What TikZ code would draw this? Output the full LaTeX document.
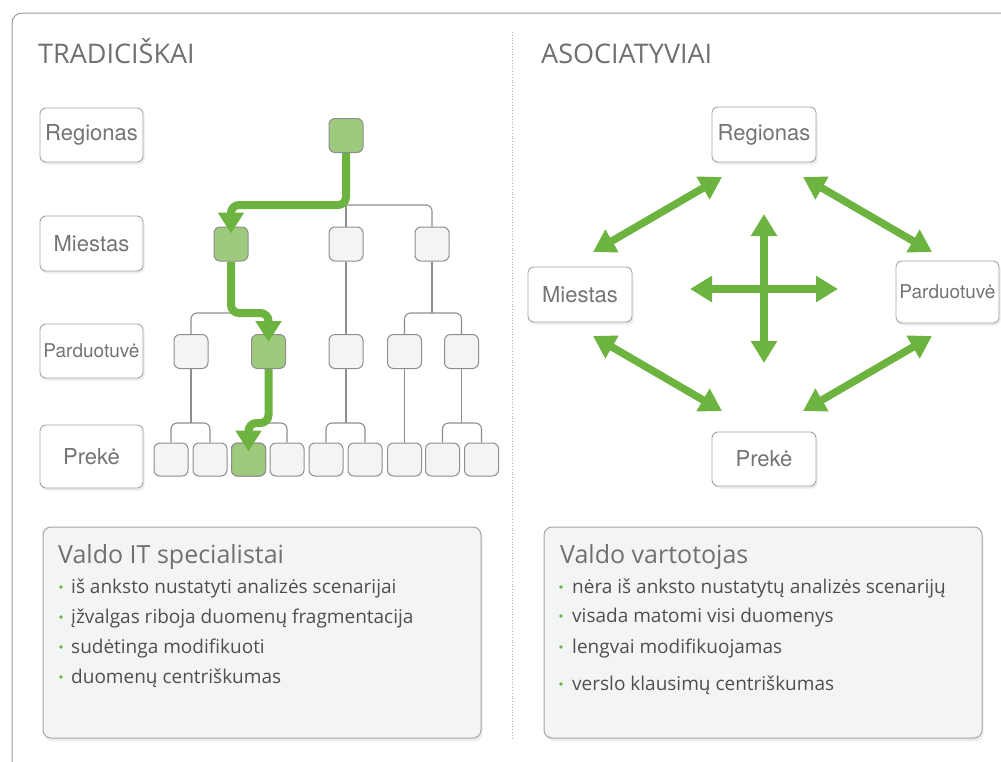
\documentclass[tikz,border=0pt]{standalone}
\usepackage{fontspec}
\setmainfont{Open Sans}
\newfontfamily\helv{TeX Gyre Heros}
\usetikzlibrary{arrows.meta,shadows,calc}
\definecolor{grn}{HTML}{6DB33F}
\definecolor{grnfill}{HTML}{9DCA7C}
\definecolor{boxfill}{HTML}{F3F4F4}
\definecolor{edge}{HTML}{8E8E8E}
\definecolor{lbltext}{HTML}{747474}
\definecolor{hdtext}{HTML}{707070}
\definecolor{bodytext}{HTML}{4F4F4F}
\begin{document}
\begin{tikzpicture}[x=1pt,y=-1pt,
 lbl/.style={draw=edge!80, line width=0.9pt, fill=white, rounded corners=6pt, minimum width=103pt, minimum height=54pt, inner sep=0pt, font=\helv\fontsize{22}{26}\selectfont, text=lbltext, drop shadow={shadow xshift=1.5pt, shadow yshift=-2.5pt, opacity=0.15}},
 tn/.style={draw=edge, line width=1pt, fill=boxfill, rounded corners=6pt, minimum width=34pt, minimum height=34pt, inner sep=0pt},
 tg/.style={tn, fill=grnfill},
 tl/.style={draw=edge, line width=1.1pt, rounded corners=6pt},
 gp/.style={draw=grn, line width=8pt, rounded corners=8pt, -{Triangle[width=25pt,length=21pt]}},
 ga/.style={draw=grn, line width=7.5pt, {Triangle[width=25pt,length=22pt]}-{Triangle[width=25pt,length=22pt]}},
 bigbox/.style={draw=edge!80, line width=1pt, fill=boxfill, rounded corners=8pt, minimum width=438pt, minimum height=211pt, drop shadow={shadow xshift=1.5pt, shadow yshift=-3pt, opacity=0.15}},
 ttl/.style={anchor=base west, inner sep=0pt, font=\fontsize{27}{32}\selectfont, text=hdtext},
 hd/.style={anchor=base west, inner sep=0pt, font=\fontsize{25}{30}\selectfont, text=hdtext},
 bl/.style={anchor=base west, inner sep=0pt, font=\fontsize{19}{23}\selectfont, text=bodytext},
 bdot/.style={circle, fill=grn, inner sep=0pt, minimum size=3.6pt},
]
\useasboundingbox (0,0) rectangle (1001,761);
\clip (0,0) rectangle (1001,761);
\fill[white] (0,0) rectangle (1001,761);
% outer frame
\draw[edge!90, line width=1pt, rounded corners=10pt] (12,820) |- (1060,13);
% divider
\draw[gray!60, dotted, line width=0.8pt] (512,32) -- (512,738);
% titles
\node[ttl] (t1) at (38,63) {TRADICIŠKAI};
\node[ttl] (t2) at (541,63) {ASOCIATYVIAI};
% left labels
\node[lbl] (lr) at (91.5,135) {Regionas};
\node[lbl, minimum height=55pt] (lm) at (91.5,243.5) {Miestas};
\node[lbl, font=\helv\fontsize{19}{23}\selectfont] (lp) at (91.5,351) {Parduotuvė};
\node[lbl, minimum height=63pt] (lk) at (91.5,456.5) {Prekė};
% tree bars
\coordinate (b1) at (0,205);
\coordinate (b2) at (0,313);
\coordinate (b3) at (0,423);
% tree nodes
\node[tg] (r) at (346,135.5) {};
\node[tg] (m1) at (231,244) {};
\node[tn] (m2) at (346,244) {};
\node[tn] (m3) at (432,244) {};
\node[tn] (p1) at (191,351.5) {};
\node[tg] (p2) at (268.5,351.5) {};
\node[tn] (p3) at (346,351.5) {};
\node[tn] (p4) at (404.5,351.5) {};
\node[tn] (p5) at (461.5,351.5) {};
\foreach \i/\xx in {1/171,2/210,3/248.5,4/287,5/326,6/365,7/404.5,8/442.5,9/481.5}{
  \node[tn, minimum height=33pt] (k\i) at (\xx,459.5) {};
}
\node[tg, minimum height=33pt] (k3) at (248.5,459.5) {};
% gray connectors
\draw[tl] (r.south) -- (m2.north);
\draw[tl] (m1.north) |- (m3.north |- b1) -- (m3.north);
\draw[tl] (m1.south) -- (m1.south |- b2);
\draw[tl] (p1.north) |- (p2.north |- b2) -- (p2.north);
\draw[tl] (m2.south) -- (p3.north);
\draw[tl] (m3.south) -- (m3.south |- b2);
\draw[tl] (p4.north) |- (p5.north |- b2) -- (p5.north);
\draw[tl] (p1.south) -- (p1.south |- b3);
\draw[tl] (k1.north) |- (k2.north |- b3) -- (k2.north);
\draw[tl] (p2.south) -- (p2.south |- b3);
\draw[tl] (k3.north) |- (k4.north |- b3) -- (k4.north);
\draw[tl] (p3.south) -- (p3.south |- b3);
\draw[tl] (k5.north) |- (k6.north |- b3) -- (k6.north);
\draw[tl] (p4.south) -- (k7.north);
\draw[tl] (p5.south) -- (p5.south |- b3);
\draw[tl] (k8.north) |- (k9.north |- b3) -- (k9.north);
% green paths
\draw[gp] (r.south) |- (m1.north |- b1) -- ([yshift=-7pt]m1.north);
\draw[gp] (m1.south) |- (p2.north |- b2) -- ([yshift=-8pt]p2.north);
\draw[gp] (p2.south) |- (k3.north |- b3) -- ([yshift=-9pt]k3.north);
% right side nodes
\node[lbl, minimum width=104pt, minimum height=55pt] (reg) at (764,134.5) {Regionas};
\node[lbl, minimum width=104pt, minimum height=55pt] (mie) at (580,294.5) {Miestas};
\node[lbl, minimum width=103pt, minimum height=62pt, font=\helv\fontsize{19}{23}\selectfont] (par) at (947.5,292) {Parduotuvė};
\node[lbl, minimum width=104pt, minimum height=54pt] (pre) at (764,459) {Prekė};
% right arrows
\coordinate (a1s) at (722,177); \coordinate (a1e) at (593,252);
\coordinate (a2s) at (803,177); \coordinate (a2e) at (932,252);
\coordinate (a3s) at (593,336); \coordinate (a3e) at (722,411);
\coordinate (a4s) at (932,336); \coordinate (a4e) at (803,411);
\coordinate (v1) at (764,214); \coordinate (v2) at (764,363);
\coordinate (h1) at (690,289); \coordinate (h2) at (838,289);
\draw[ga] (a1s) -- (a1e);
\draw[ga] (a2s) -- (a2e);
\draw[ga] (a3s) -- (a3e);
\draw[ga] (a4s) -- (a4e);
\draw[ga] (v1) -- (v2);
\draw[ga] (h1) -- (h2);
% bottom boxes
\node[bigbox] (lb) at (262,632.5) {};
\node[bigbox] (rb) at (763,632.5) {};
\node[hd] (lh) at (58,563) {Valdo IT specialistai};
\node[bl] (l1) at (71,593) {iš anksto nustatyti analizės scenarijai};
\node[bl] (l2) at (71,623) {įžvalgas riboja duomenų fragmentacija};
\node[bl] (l3) at (71,653) {sudėtinga modifikuoti};
\node[bl] (l4) at (71,683) {duomenų centriškumas};
\foreach \yy in {593,623,653,683}{\node[bdot] at (61,\yy-6) {};}
\node[hd] (rh) at (560,563) {Valdo vartotojas};
\node[bl] (r1) at (572,593) {nėra iš anksto nustatytų analizės scenarijų};
\node[bl] (r2) at (572,622) {visada matomi visi duomenys};
\node[bl] (r3) at (572,653) {lengvai modifikuojamas};
\node[bl] (r4) at (572,690) {verslo klausimų centriškumas};
\foreach \yy in {593,622,653,690}{\node[bdot] at (561,\yy-6) {};}
\end{tikzpicture}
\end{document}
